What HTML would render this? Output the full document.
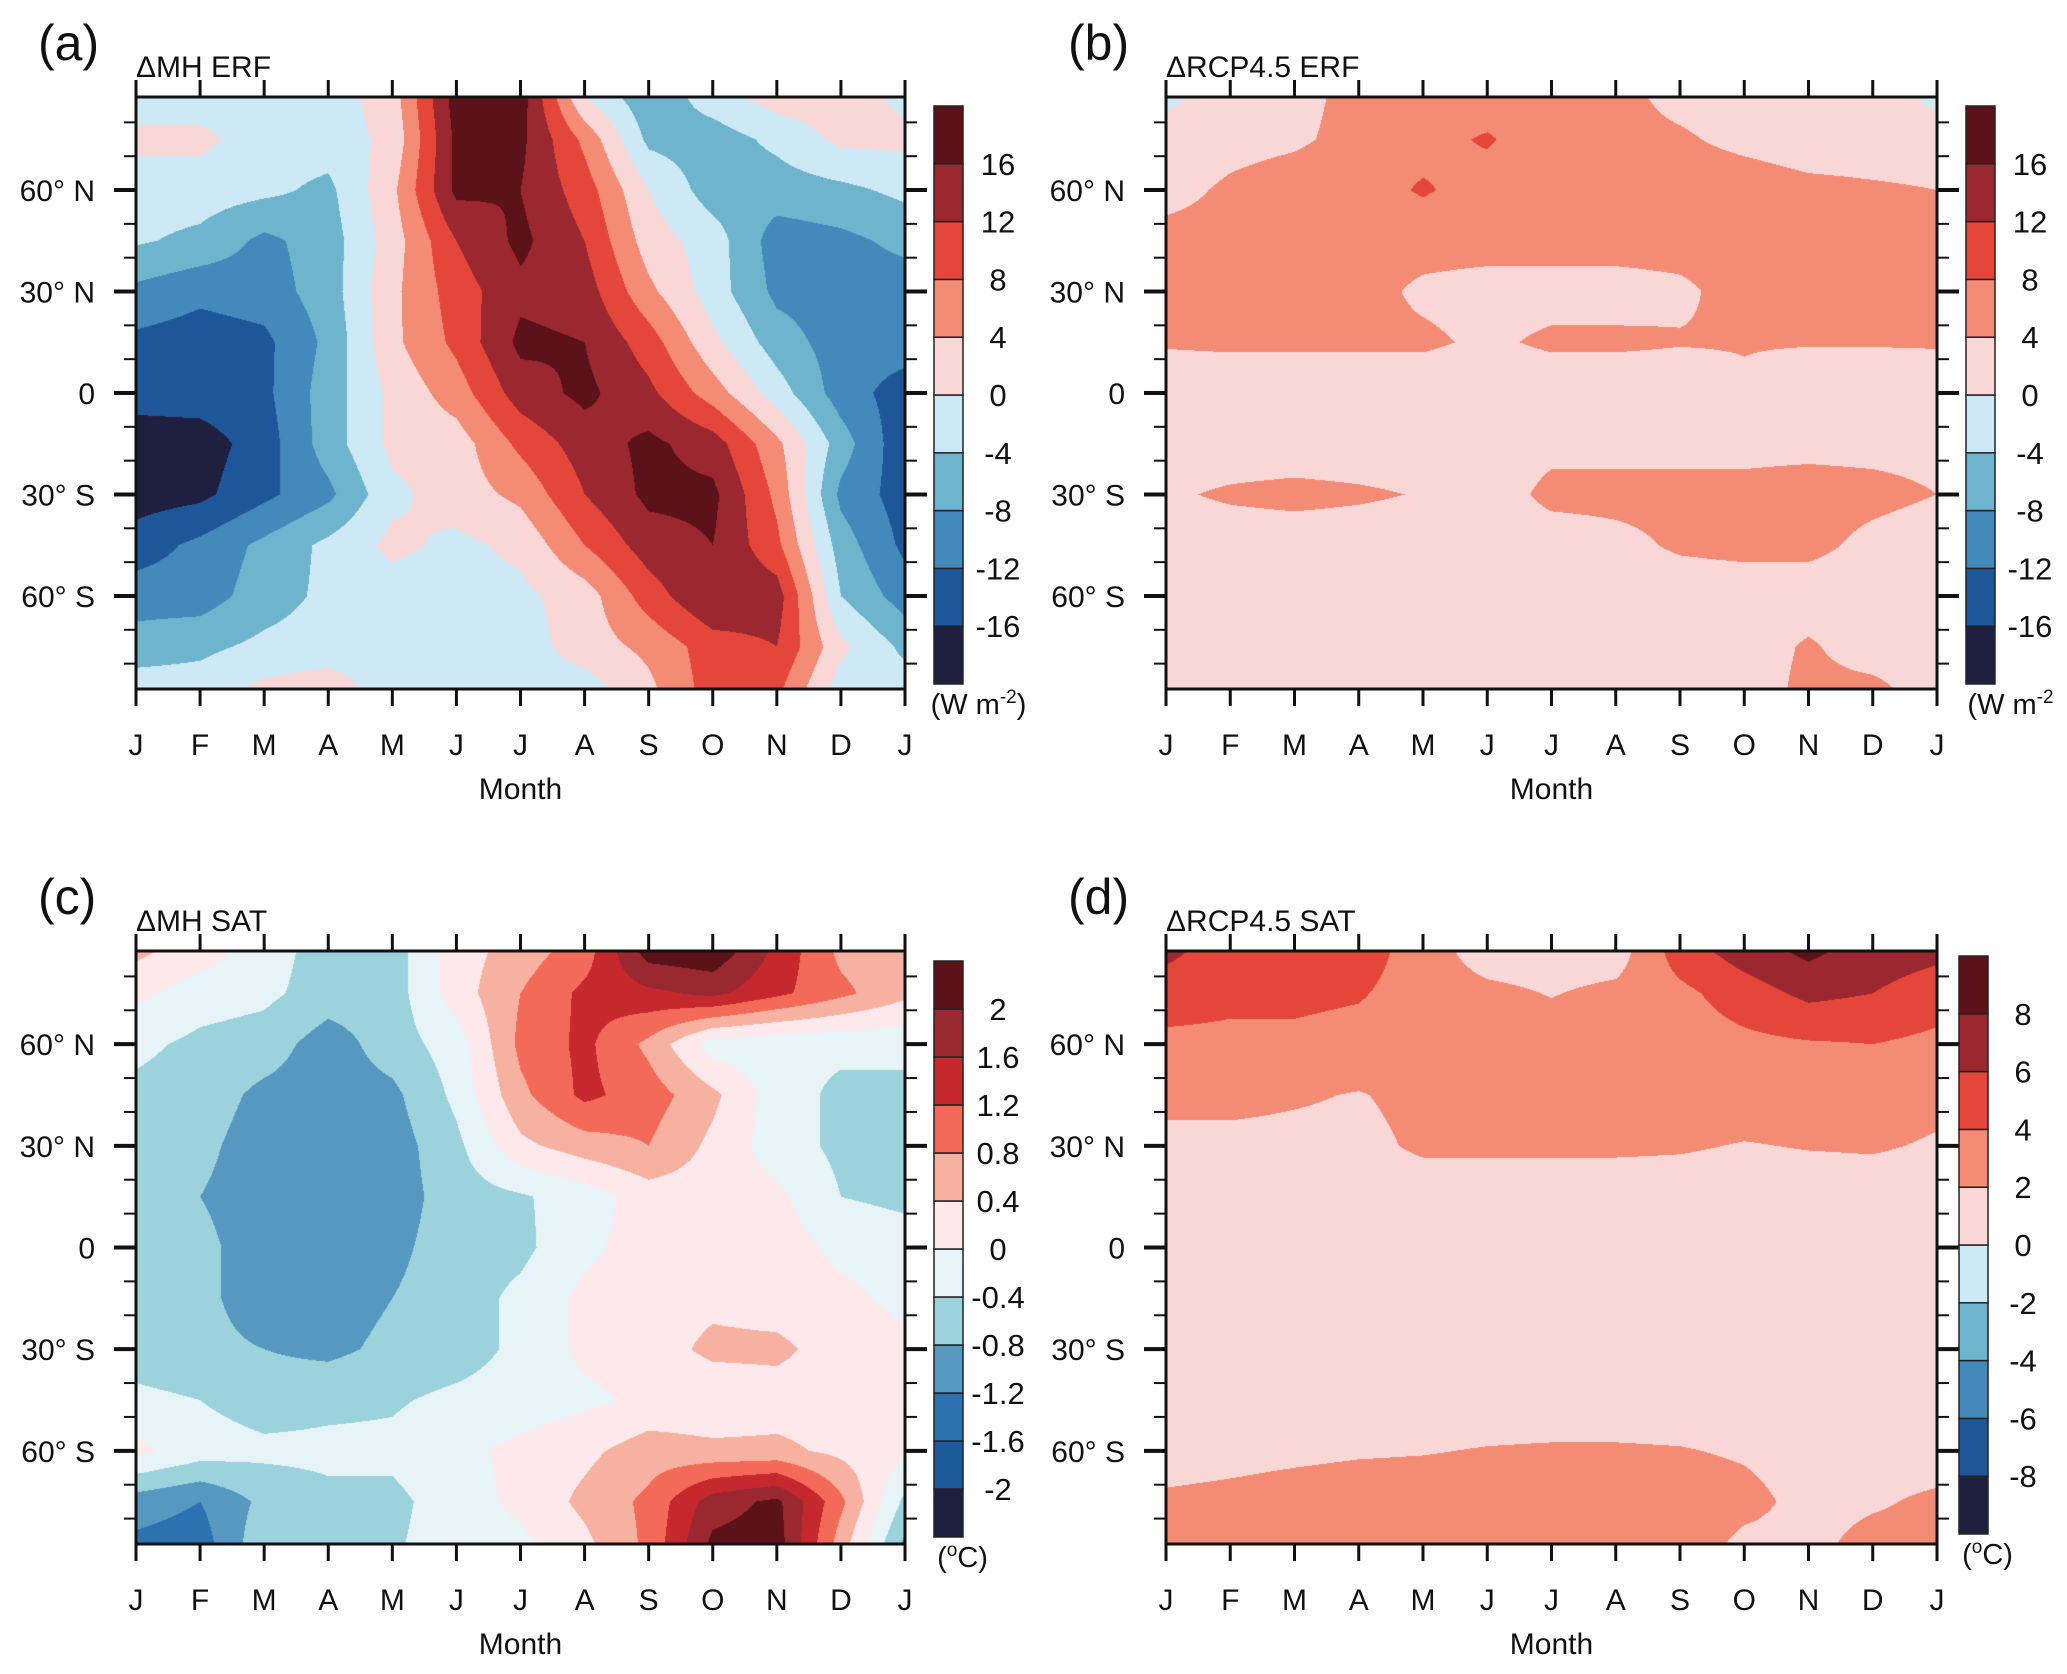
<!DOCTYPE html>
<html><head><meta charset="utf-8">
<style>
body{margin:0;background:#fff;}
#root{position:relative;width:2067px;height:1674px;overflow:hidden;background:#fff;font-family:"Liberation Sans",sans-serif;}
canvas{position:absolute;}
svg{position:absolute;left:0;top:0;}
</style></head>
<body>
<div id="root">
<canvas id="cva"></canvas>
<canvas id="cvb"></canvas>
<canvas id="cvc"></canvas>
<canvas id="cvd"></canvas>
<svg id="ov" width="2067" height="1674"></svg>
</div>
<script>
const monthLabels = ["J","F","M","A","M","J","J","A","S","O","N","D","J"];
const lats = [87.5,75,60,45,30,15,0,-15,-30,-45,-60,-75,-87.5];
const latTickVals = [60,30,0,-30,-60];
const latTickLabels = ["60° N","30° N","0","30° S","60° S"];

const levelsERF = [-16,-12,-8,-4,0,4,8,12,16];
const levelsSATmh = [-2,-1.6,-1.2,-0.8,-0.4,0,0.4,0.8,1.2,1.6,2];
const levelsSATrcp = [-8,-6,-4,-2,0,2,4,6,8];
const levelLabelsERF = ["-16","-12","-8","-4","0","4","8","12","16"];
const levelLabelsSATmh = ["-2","-1.6","-1.2","-0.8","-0.4","0","0.4","0.8","1.2","1.6","2"];
const levelLabelsSATrcp = ["-8","-6","-4","-2","0","2","4","6","8"];

const colorsA = ["#1f2040","#1e5799","#4389bb","#6db4cc","#cde9f5","#f9d7d7","#f48b74","#e4473a","#9b2730","#5b1218"];
const colorsC = ["#1f2040","#1c5a9a","#2c72b0","#5698c0","#9cd2dc","#e6f4f8","#fde8ec","#f7b1a1","#f36b58","#c5282d","#9a2830","#5b1218"];

// rows = lats (N->S), cols = months J..J
const erfMH = [
 [-2,-2,-2,-2,2,18,18,0,-7,-2,2,2,-1],
 [1,1,-2,-2,1,17,17,7,-5,-6,-3,1,1],
 [-2,-2,-3,-5,3,17,16,10,0,-6,-6,-5,-3],
 [-3.5,-5,-9,-6,2,12,17,12,2,-2,-10,-9,-7],
 [-9,-11,-10,-6,3,10,15,14,5,-2,-9,-10,-10],
 [-13,-14,-13,-7,3,9,17,16,10,1,-6,-10,-10],
 [-14.5,-14,-13,-6,1,6,14,17,13,6,-2,-10,-14],
 [-18,-18,-14,-6,1,2,9,14,17,14,5,-6,-15],
 [-18,-17,-13,-9,-1,2,5,12,17,17,7,-9,-14],
 [-14,-11,-7,-3,1,-1,1,8,14,16,9,-6,-13],
 [-10,-10,-6,-3,-2,-2,-1,2,10,16,14,-4,-10],
 [-6,-5,-3,-2,-2,-2,-2,2,5,10,12,1,-5],
 [-2,-2,1,2,-2,-2,-2,-2,3,10,9,-2,-2]
];
const erfRCP = [
 [-1,2,3,5,5.5,5.5,5,5,3,2,2,2,-1],
 [2,3,3.5,5,6.5,8.5,5,5,4.5,3,2,2,2],
 [3,4.5,5.5,6,8.5,6,6,6,6,6,5,4.5,4],
 [5,5,5,5,5,5,5,5,5,5,5,5,5],
 [5,5,4.5,5,3.5,3,3,3,3.5,5,5,4.5,5],
 [4.3,4.5,4.5,4.5,4.5,3.5,4.5,4.5,4.2,4.2,4.2,4.2,4.3],
 [2,2,2,2,2,2,2,2,2,3.5,2,2,2],
 [2,2,2,2,2,2,3,3,3,3,3,3,3],
 [3.5,4.5,5,4.5,3.8,2,5,5,5,5,5.5,5,4],
 [2,2,2,2,2,2,2,3,4.5,5,5,3,2],
 [2,2,2,2,2,2,2,2,2,2,2,2,2],
 [2,2,2,2,2,2,2,2,2,2,4.5,2,2],
 [2,2,2,2,2,2,2,2,2,2,5,5,2]
];
const satMH = [
 [0.5,0.2,-0.2,-0.6,-0.6,0.2,0.6,1.0,2.2,2.3,1.5,0.7,0.5],
 [0.1,-0.2,-0.3,-0.6,-0.6,0.2,0.8,1.3,1.5,1.7,1.3,0.9,0.5],
 [-0.3,-0.5,-0.6,-1.0,-0.6,-0.2,0.9,1.3,0.7,-0.2,-0.3,-0.3,-0.3],
 [-0.5,-0.6,-0.9,-1.0,-0.9,-0.3,0.7,1.3,1.0,0.5,-0.2,-0.5,-0.5],
 [-0.6,-0.7,-1.0,-1.0,-1.0,-0.5,0.3,0.6,0.8,0.3,-0.2,-0.5,-0.6],
 [-0.6,-0.8,-1.0,-1.0,-1.0,-0.6,-0.45,-0.2,0.2,0.2,0.1,-0.4,-0.5],
 [-0.6,-0.7,-1.0,-1.0,-0.9,-0.6,-0.5,-0.1,0.2,0.2,0.2,-0.1,-0.2],
 [-0.6,-0.7,-1.0,-1.0,-0.8,-0.6,-0.3,0.1,0.2,0.3,0.2,0.1,-0.1],
 [-0.6,-0.7,-0.8,-0.9,-0.7,-0.6,-0.3,0.1,0.2,0.5,0.5,0.2,0.1],
 [-0.3,-0.4,-0.6,-0.5,-0.45,-0.3,-0.2,-0.1,0.1,0.1,0.2,0.2,0.1],
 [0.1,-0.2,-0.3,-0.3,-0.3,-0.1,0.1,0.3,0.6,0.5,0.5,0.3,0.1],
 [-1.0,-1.2,-0.7,-0.5,-0.5,-0.2,0.1,0.5,0.9,1.8,2.1,0.9,-0.5],
 [-1.3,-1.4,-0.5,-0.5,-0.45,-0.2,-0.1,0.3,0.9,2.1,2.2,0.6,-0.9]
];
const satRCP = [
 [6.5,5,5,5,3,1,1,1,5,7,8.5,7,6.5],
 [5,4.5,4.5,4.2,3,2.5,1.9,2.5,3.5,5,6.5,6,5],
 [3.5,3.5,3.5,3.2,3,3,3,3,3,3.5,3.8,4,3.5],
 [2.5,2.5,2.2,1.9,2.5,3,3,3,3,3,3,3,2.5],
 [1.5,1.5,1.5,1.5,2.3,2.3,2.3,2.3,2.2,1.9,2.1,2.2,1.8],
 [1,1,1,1,1,1,1,1,1,1,1,1,1],
 [1,1,1,1,1,1,1,1,1,1,1,1,1],
 [1,1,1,1,1,1,1,1,1,1,1,1,1],
 [1,1,1,1,1,1,1,1,1,1,1,1,1],
 [1,1,1,1,1,1,1,1,1,1,1,1,1],
 [1.2,1.4,1.6,1.8,1.9,2.1,2.2,2.2,2.1,1.8,1.3,1.3,1.2],
 [2.3,2.5,2.8,3,3,3,3,3,3,2.5,1.5,1.8,2.3],
 [3,3,3,3,3,3,3,3,3,1.6,1.6,2.5,2.5]
];

const panels = [
 {id:"a",canvas:"cva",grid:erfMH,levels:levelsERF,labels:levelLabelsERF,colors:colorsA,x0:136,x1:905,y0:97,y1:689,cbx:934,cbw:29,cby0:106,cby1:684,title:"ΔMH ERF",unit:"(W m",unitSup:"-2",unitEnd:")",letter:"(a)"},
 {id:"b",canvas:"cvb",grid:erfRCP,levels:levelsERF,labels:levelLabelsERF,colors:colorsA,x0:1166,x1:1937,y0:97,y1:689,cbx:1966,cbw:29,cby0:106,cby1:684,title:"ΔRCP4.5 ERF",unit:"(W m",unitSup:"-2",unitEnd:"",letter:"(b)"},
 {id:"c",canvas:"cvc",grid:satMH,levels:levelsSATmh,labels:levelLabelsSATmh,colors:colorsC,x0:136,x1:905,y0:951,y1:1544,cbx:934,cbw:29,cby0:961,cby1:1537,title:"ΔMH SAT",unit:"(",unitSup:"o",unitEnd:"C)",letter:"(c)"},
 {id:"d",canvas:"cvd",grid:satRCP,levels:levelsSATrcp,labels:levelLabelsSATrcp,colors:colorsA,x0:1166,x1:1937,y0:951,y1:1544,cbx:1959,cbw:29,cby0:956,cby1:1534,title:"ΔRCP4.5 SAT",unit:"(",unitSup:"o",unitEnd:"C)",letter:"(d)"}
];

const NS="http://www.w3.org/2000/svg";
const ov=document.getElementById('ov');
function mk(tag,attrs,parent){const e=document.createElementNS(NS,tag);for(const k in attrs)e.setAttribute(k,attrs[k]);(parent||ov).appendChild(e);return e;}

function sample(grid,m,lat){
  let c=Math.max(0,Math.min(11.9999,m));const ci=Math.floor(c),cf=c-ci;
  let r=0;while(r<lats.length-2&&lat<lats[r+1])r++;
  let rf=(lats[r]-lat)/(lats[r]-lats[r+1]);rf=Math.max(0,Math.min(1,rf));
  const a=grid[r][ci],b=grid[r][ci+1],cc=grid[r+1][ci],d=grid[r+1][ci+1];
  return (a*(1-cf)+b*cf)*(1-rf)+(cc*(1-cf)+d*cf)*rf;
}
function hex(h){return [parseInt(h.substr(1,2),16),parseInt(h.substr(3,2),16),parseInt(h.substr(5,2),16)];}

panels.forEach(p=>{
  const W=p.x1-p.x0,H=p.y1-p.y0;
  const cv=document.getElementById(p.canvas);
  cv.width=W;cv.height=H;cv.style.left=p.x0+'px';cv.style.top=p.y0+'px';
  const ctx=cv.getContext('2d');const img=ctx.createImageData(W,H);
  const rgb=p.colors.map(hex);
  for(let y=0;y<H;y++){const lat=87.5-(y+0.5)/H*175;
    for(let x=0;x<W;x++){const m=(x+0.5)/W*12;const v=sample(p.grid,m,lat);
      let k=0;while(k<p.levels.length&&v>=p.levels[k])k++;
      const c=rgb[k];const i=(y*W+x)*4;img.data[i]=c[0];img.data[i+1]=c[1];img.data[i+2]=c[2];img.data[i+3]=255;}}
  ctx.putImageData(img,0,0);

  const g=mk('g',{});
  
  
  const xs=m=>p.x0+m/12*W;
  const ys=l=>p.y0+(87.5-l)/175*H;
  const fr=mk('rect',{x:p.x0,y:p.y0,width:W,height:H,fill:'none',stroke:'#111','stroke-width':3},g);
  
  
  monthLabels.forEach((lab,i)=>{
    const x=xs(i);
    mk('line',{x1:x,x2:x,y1:p.y0,y2:p.y0-17,stroke:'#111','stroke-width':3},g);
    mk('line',{x1:x,x2:x,y1:p.y1,y2:p.y1+17,stroke:'#111','stroke-width':3},g);
    const t=mk('text',{x:x,y:p.y1+66,'font-size':30,'text-anchor':'middle',fill:'#111'},g);
    t.textContent=lab;
    
    
  });
  for(let l=-80;l<=80;l+=10){
    const y=ys(l);const major=(l%30===0);const len=major?22:12;
    mk('line',{x1:p.x0,x2:p.x0-len,y1:y,y2:y,stroke:'#111','stroke-width':major?4:2},g);
    mk('line',{x1:p.x1,x2:p.x1+len,y1:y,y2:y,stroke:'#111','stroke-width':major?4:2},g);
  }
  latTickVals.forEach((l,i)=>{
    const t=mk('text',{x:p.x0-41,y:ys(l)+11,'font-size':30,'text-anchor':'end',fill:'#111'},g);
    t.textContent=latTickLabels[i];
    
    
  });
  const xt=mk('text',{x:(p.x0+p.x1)/2,y:p.y1+110,'font-size':30,'text-anchor':'middle',fill:'#111'},g);
  xt.textContent='Month';
  
  
  const tt=mk('text',{x:p.x0,y:p.y0-20,'font-size':30,fill:'#111'},g);
  tt.textContent=p.title;
  
  
  const lt=mk('text',{x:p.x0-98,y:p.y0-37,'font-size':50,fill:'#111'},g);
  lt.textContent=p.letter;
  
  
  const n=p.colors.length;const bh=(p.cby1-p.cby0)/n;
  p.colors.forEach((c,i)=>{
    const r=mk('rect',{x:p.cbx,y:p.cby1-(i+1)*bh,width:p.cbw,height:bh,fill:c,stroke:'#222','stroke-width':1.5},g);
    
    
  });
  p.labels.forEach((lab,i)=>{
    const y=p.cby1-(i+1)*bh;
    const t=mk('text',{x:p.cbx+p.cbw+35,y:y+11,'font-size':31,'text-anchor':'middle',fill:'#111'},g);
    t.textContent=lab;
    
    
  });
  const ut=mk('text',{x:p.cbx+p.cbw/2+(p.unit==='('?14:30),y:p.cby1+30,'font-size':29,'text-anchor':'middle',fill:'#111'},g);
  
  
  const s1=mk('tspan',{},ut);s1.textContent=p.unit;
  const s2=mk('tspan',{dy:-11,'font-size':19},ut);s2.textContent=p.unitSup;
  const s3=mk('tspan',{dy:11},ut);s3.textContent=p.unitEnd;
});
</script>
</body></html>
